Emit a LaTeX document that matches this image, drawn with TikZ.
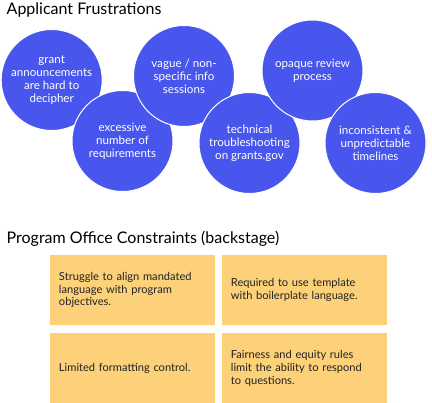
\documentclass[tikz,border=0pt]{standalone}
\usepackage{fontspec}
\setmainfont{Lato}
\usepackage{xcolor}
\usetikzlibrary{positioning}
\definecolor{circleblue}{RGB}{72,86,238}
\definecolor{stickyyellow}{RGB}{252,209,122}
\definecolor{stickytext}{RGB}{34,34,34}

\begin{document}
\begin{tikzpicture}[x=1pt, y=-1pt, node distance=7pt,
    heading/.style={anchor=west, inner sep=0pt, font=\fontsize{16}{19}\selectfont, text=black},
    frustration/.style={circle, draw=white, line width=1pt, fill=circleblue, minimum size=101pt, inner sep=0pt, text=white, align=center, font=\fontsize{11.6}{12.9}\selectfont},
    constraint/.style={rectangle, fill=stickyyellow, minimum width=165pt, minimum height=70pt, text width=147pt, align=left, text=stickytext, font=\fontsize{11.1}{12.7}\selectfont}]

    \useasboundingbox (0,0) rectangle (432,403);

    % applicant side
    \node [heading] (frusttitle) at (6.5,9.5) {Applicant Frustrations};
    \node [frustration] (announce) at (51.7,80) {grant\\announcements\\are hard to\\decipher};
    \node [frustration] (excessive) at (122.5,141) {excessive\\number of\\requirements};
    \node [frustration] (vague) at (184,76) {vague / non-\\specific info\\sessions};
    \node [frustration] (technical) at (249.5,143) {technical\\troubleshooting\\on grants.gov};
    \node [frustration] (opaque) at (312.5,70.5) {opaque review\\process};
    \node [frustration] (timelines) at (375.5,143) {inconsistent \&\\unpredictable\\timelines};

    % backstage
    \node [heading] (officetitle) at (6.5,238.5) {Program Office Constraints (backstage)};
    \node [constraint] (align) at (132.5,290) {Struggle to align mandated\\language with program\\objectives.};
    \node [constraint, right=6.5pt of align] (template) {Required to use template\\with boilerplate language.};
    \node [constraint, below=8pt of align] (formatting) {Limited formatting control.};
    \node [constraint, below=8pt of template] (fairness) {Fairness and equity rules\\limit the ability to respond\\to questions.};

\end{tikzpicture}
\end{document}
